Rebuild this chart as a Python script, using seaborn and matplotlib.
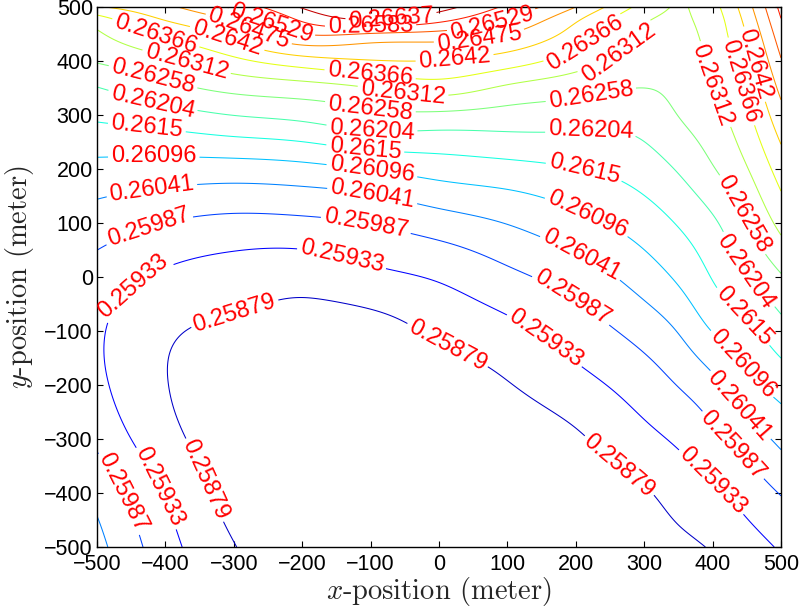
import numpy as np
import matplotlib
matplotlib.use("Agg")
import matplotlib.pyplot as plt
import seaborn as sns

# ---- data ----
x_pos = [-500, -400, -300, -200, -100, 0, 100, 200, 300, 350, 400, 450, 500]
y_pos = [-500, -400, -300, -200, -100, 0, 100, 200, 300, 350, 400, 450, 475, 500]

# field values in units of 1e-5 (rows: y_pos, columns: x_pos)
field_e5 = [
    [26058, 25955, 25881, 25852, 25833, 25825, 25828, 25838, 25857, 25868, 25883, 25909, 25939],
    [26025, 25929, 25863, 25849, 25833, 25828, 25833, 25852, 25874, 25898, 25922, 25955, 25990],
    [25976, 25896, 25856, 25849, 25838, 25833, 25846, 25872, 25917, 25942, 25973, 26011, 26054],
    [25946, 25881, 25858, 25855, 25849, 25849, 25876, 25914, 25960, 25989, 26026, 26079, 26118],
    [25941, 25887, 25871, 25863, 25860, 25888, 25918, 25959, 26008, 26044, 26098, 26136, 26183],
    [25964, 25924, 25905, 25897, 25918, 25939, 25974, 26011, 26067, 26105, 26153, 26201, 26253],
    [26015, 25986, 25972, 25975, 25989, 26015, 26043, 26079, 26123, 26154, 26195, 26256, 26328],
    [26079, 26073, 26071, 26079, 26098, 26119, 26132, 26148, 26176, 26209, 26254, 26309, 26391],
    [26160, 26181, 26205, 26220, 26244, 26247, 26238, 26230, 26231, 26259, 26293, 26355, 26456],
    [26202, 26241, 26273, 26289, 26312, 26338, 26302, 26277, 26258, 26272, 26312, 26377, 26490],
    [26262, 26300, 26352, 26396, 26417, 26418, 26392, 26338, 26285, 26282, 26323, 26399, 26525],
    [26304, 26377, 26440, 26529, 26525, 26512, 26476, 26397, 26304, 26296, 26334, 26423, 26561],
    [26339, 26420, 26480, 26588, 26632, 26594, 26523, 26426, 26317, 26304, 26339, 26437, 26580],
    [26415, 26464, 26540, 26642, 26691, 26659, 26572, 26475, 26345, 26309, 26348, 26453, 26599],
]

levels = [0.25879, 0.25933, 0.25987, 0.26041, 0.26096, 0.2615, 0.26204, 0.26258,
          0.26312, 0.26366, 0.2642, 0.26475, 0.26529, 0.26583, 0.26637]

ticks = [-500, -400, -300, -200, -100, 0, 100, 200, 300, 400, 500]

# label anchor spots (data coords) where the reference shows inline labels
label_spots = [
    (-303, -48), (16, -117), (-335, -372), (262, -352),
    (-442, -24), (-142, 37), (-412, -391), (158, -111), (398, -380),
    (-425, 94), (-107, 96), (196, -37), (430, -311), (-461, -398),
    (-420, 163), (-98, 148), (209, 41), (437, -241),
    (-417, 222), (-98, 198), (218, 118), (441, -163),
    (-427, 278), (-108, 235), (213, 202), (447, -70),
    (-418, 328), (-98, 276), (222, 269), (447, 9),
    (-418, 371), (-101, 308), (222, 337), (443, 115),
    (-370, 394), (-53, 339), (260, 420), (399, 355),
    (-414, 452), (-101, 372), (213, 435), (439, 361),
    (-310, 441), (23, 402), (458, 393),
    (-276, 464), (60, 431),
    (-244, 472), (78, 467),
    (-100, 462),
    (-70, 480),
]


def natural_spline(xk, yk, xn):
    xk = np.asarray(xk, float)
    yk = np.asarray(yk, float)
    xn = np.asarray(xn, float)
    n = len(xk)
    h = np.diff(xk)
    A = np.zeros((n, n))
    rhs = np.zeros((n,) + yk.shape[1:])
    A[0, 0] = 1.0
    A[-1, -1] = 1.0
    for i in range(1, n - 1):
        A[i, i - 1] = h[i - 1]
        A[i, i] = 2 * (h[i - 1] + h[i])
        A[i, i + 1] = h[i]
        rhs[i] = 6 * ((yk[i + 1] - yk[i]) / h[i] - (yk[i] - yk[i - 1]) / h[i - 1])
    M = np.linalg.solve(A, rhs)
    idx = np.clip(np.searchsorted(xk, xn) - 1, 0, n - 2)
    x0 = xk[idx]
    x1 = xk[idx + 1]
    hh = (x1 - x0)[:, None]
    a = (x1 - xn)[:, None]
    b = (xn - x0)[:, None]
    return (M[idx] * a ** 3 / (6 * hh) + M[idx + 1] * b ** 3 / (6 * hh)
            + (yk[idx] / hh - M[idx] * hh / 6) * a
            + (yk[idx + 1] / hh - M[idx + 1] * hh / 6) * b)


Z = np.array(field_e5, float) / 1e5
xf = np.linspace(-500, 500, 401)
yf = np.linspace(-500, 500, 401)
Zy = natural_spline(y_pos, Z, yf)            # (len(yf), len(x_pos))
ZF = natural_spline(x_pos, Zy.T, xf).T       # (len(yf), len(xf))
XF, YF = np.meshgrid(xf, yf)

# ---- style ----
sns.set_theme(style="ticks")
plt.rcParams["font.family"] = ["Liberation Sans", "DejaVu Sans"]
plt.rcParams["mathtext.fontset"] = "cm"
plt.rcParams["axes.unicode_minus"] = True

line_colors = sns.mpl_palette("jet", len(levels))

fig = plt.figure(figsize=(7.99, 6.08), dpi=100)
ax = fig.add_axes([0.1214, 0.1003, 0.8561, 0.8882])

cs = ax.contour(XF, YF, ZF, levels=levels, colors=line_colors, linewidths=0.75)
label_texts = ax.clabel(cs, fmt="%.5g", colors="red", fontsize=17, inline=True,
                        inline_spacing=3, manual=label_spots)
for t in label_texts:
    t.set_clip_on(False)

ax.set_xlim(-500, 500)
ax.set_ylim(-500, 500)
ax.set_xticks(ticks)
ax.set_yticks(ticks)
ax.tick_params(direction="in", top=True, right=True, length=4.5, width=0.8,
               labelsize=15.5, colors="black", pad=3)
ax.tick_params(axis="x", pad=5)
for sp in ax.spines.values():
    sp.set_linewidth(1.0)
    sp.set_color("black")

ax.set_xlabel(r"$x$-position (meter)", fontsize=20.5, fontfamily="cmr10", labelpad=0)
ax.set_ylabel(r"$y$-position (meter)", fontsize=20.5, fontfamily="cmr10", labelpad=6)

fig.savefig("out.png", dpi=100, facecolor="white")
